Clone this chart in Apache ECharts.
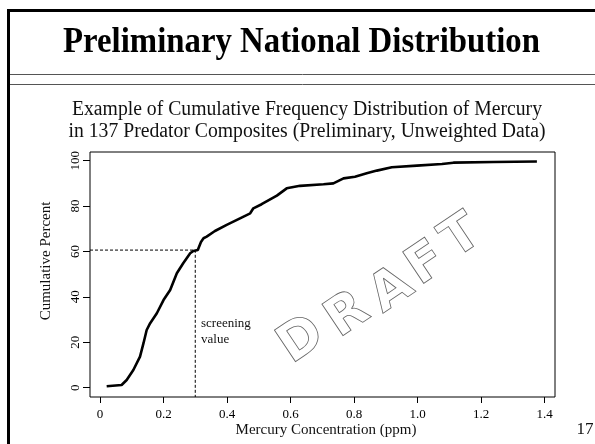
<!DOCTYPE html>
<html>
<head>
<meta charset="utf-8">
<script src="https://cdn.jsdelivr.net/npm/echarts@6/dist/echarts.min.js"></script>
<style>
  html, body { margin: 0; padding: 0; background: #fff; }
  #chart { width: 595px; height: 444px; }
</style>
</head>
<body>
<div id="chart"></div>
<script>
// 汞浓度 (ppm) 与累计百分比
const hgConc = [0.021, 0.068, 0.084, 0.105, 0.126, 0.137, 0.147, 0.158, 0.179, 0.200,
  0.221, 0.242, 0.262, 0.284, 0.294, 0.308, 0.318, 0.326, 0.336, 0.362,
  0.399, 0.441, 0.473, 0.483, 0.509, 0.557, 0.588, 0.630, 0.704, 0.735,
  0.767, 0.803, 0.840, 0.872, 0.919, 0.998, 1.077, 1.113, 1.239, 1.376]
const cumPct = [0.6, 1.2, 3.4, 7.8, 13.7, 19.6, 25.4, 28.4, 32.8, 38.6,
  43.0, 50.4, 54.8, 59.2, 60.2, 60.6, 64.2, 65.8, 66.5, 69.0,
  71.7, 74.6, 76.8, 79.0, 80.8, 84.6, 87.8, 88.9, 89.6, 90.0,
  92.2, 92.9, 94.4, 95.6, 97.1, 97.8, 98.5, 99.1, 99.4, 99.6]
const xTicks = [0, 0.2, 0.4, 0.6, 0.8, 1.0, 1.2, 1.4]
const yTicks = [0, 20, 40, 60, 80, 100]
// screening value
const screenValue = 0.3
const screenPct = 60.6

const xMin = -0.0315
const xMax = 1.433
const yMin = -4.1
const yMax = 103.8

const serif = '"Liberation Serif", "DejaVu Serif", serif'

// 量文字宽度，用来横向压缩标题
function textWidth(text, font) {
  const ctx = document.createElement('canvas').getContext('2d')
  ctx.font = font
  return ctx.measureText(text).width
}

const titleText = 'Preliminary National Distribution'
const titleFont = 'bold 35px ' + serif
const titleScale = 477 / textWidth(titleText, titleFont)

const sub1 = 'Example of Cumulative Frequency Distribution of Mercury'
const sub2 = 'in 137 Predator Composites (Preliminary, Unweighted Data)'
const subFont = '20px ' + serif
const subScale = 470 / textWidth(sub1, subFont)

const myChart = echarts.init(document.getElementById('chart'))

// DRAFT 水印，一个字母一个字母放
const draftLetters = ['D', 'R', 'A', 'F', 'T']
const draftPos = [[302, 341], [348, 316], [392, 291], [427, 265], [462, 238]]
const draftEls = draftLetters.map(function(ch, i) {
  return {
    type: 'text',
    x: draftPos[i][0],
    y: draftPos[i][1],
    rotation: 0.59,
    silent: true,
    style: {
      text: ch,
      font: 'bold 52px "DejaVu Sans", "Liberation Sans", sans-serif',
      fill: 'rgba(0,0,0,0)',
      stroke: '#666',
      lineWidth: 0.8,
      textAlign: 'center',
      textVerticalAlign: 'middle'
    }
  }
})

const option = {
  backgroundColor: '#fff',
  animation: false,
  grid: {
    left: 90,
    right: 40,
    top: 152,
    bottom: 47,
    show: true,
    borderColor: '#000',
    borderWidth: 1
  },
  xAxis: {
    type: 'value',
    min: xMin,
    max: xMax,
    splitLine: { show: false },
    axisLine: { show: false, onZero: false },
    axisTick: {
      show: true,
      customValues: xTicks,
      length: 6,
      lineStyle: { color: '#000' }
    },
    axisLabel: {
      customValues: xTicks,
      margin: 11,
      color: '#000',
      fontSize: 13,
      fontFamily: serif,
      formatter: function(v) {
        return v === 0 ? '0' : v.toFixed(1)
      }
    }
  },
  yAxis: {
    type: 'value',
    min: yMin,
    max: yMax,
    splitLine: { show: false },
    axisLine: { show: false, onZero: false },
    axisTick: {
      show: true,
      customValues: yTicks,
      length: 7,
      lineStyle: { color: '#000' }
    },
    axisLabel: {
      customValues: yTicks,
      rotate: 90,
      margin: 8,
      color: '#000',
      fontSize: 13,
      fontFamily: serif
    }
  },
  series: [
    {
      name: 'cdf',
      type: 'line',
      data: hgConc.map(function(x, i) { return [x, cumPct[i]] }),
      showSymbol: false,
      lineStyle: { color: '#000', width: 2.6 },
      z: 3
    },
    {
      // 筛选值虚线
      name: 'screening',
      type: 'line',
      data: [[xMin, screenPct], [screenValue, screenPct], [screenValue, yMin]],
      showSymbol: false,
      lineStyle: { color: '#000', width: 1, type: [3, 2] },
      z: 2
    }
  ],
  graphic: [
    // 幻灯片边框
    {
      type: 'polyline',
      shape: { points: [[8.5, 444], [8.5, 10.5], [595, 10.5]] },
      style: { stroke: '#000', lineWidth: 3, fill: null }
    },
    {
      type: 'line',
      shape: { x1: 10, y1: 74.5, x2: 595, y2: 74.5 },
      style: { stroke: '#555', lineWidth: 1 }
    },
    {
      type: 'line',
      shape: { x1: 10, y1: 84.5, x2: 595, y2: 84.5 },
      style: { stroke: '#555', lineWidth: 1 }
    },
    {
      type: 'text',
      x: 301.5,
      y: 43,
      scaleX: titleScale,
      style: {
        text: titleText,
        font: titleFont,
        fill: '#000',
        textAlign: 'center',
        textVerticalAlign: 'middle'
      }
    },
    {
      type: 'text',
      x: 307,
      y: 110,
      scaleX: subScale,
      style: { text: sub1, font: subFont, fill: '#111', textAlign: 'center', textVerticalAlign: 'middle' }
    },
    {
      type: 'text',
      x: 307,
      y: 131.5,
      scaleX: subScale,
      style: { text: sub2, font: subFont, fill: '#111', textAlign: 'center', textVerticalAlign: 'middle' }
    },
    {
      type: 'text',
      x: 46.5,
      y: 261,
      rotation: Math.PI / 2,
      style: { text: 'Cumulative Percent', font: '15px ' + serif, fill: '#111', textAlign: 'center', textVerticalAlign: 'middle' }
    },
    {
      type: 'text',
      x: 326,
      y: 430,
      style: { text: 'Mercury Concentration (ppm)', font: '15px ' + serif, fill: '#111', textAlign: 'center', textVerticalAlign: 'middle' }
    },
    {
      type: 'text',
      x: 585,
      y: 430,
      style: { text: '17', font: '17px ' + serif, fill: '#111', textAlign: 'center', textVerticalAlign: 'middle' }
    },
    {
      type: 'text',
      x: 201,
      y: 324,
      style: { text: 'screening', font: '13px ' + serif, fill: '#111', textAlign: 'left', textVerticalAlign: 'middle' }
    },
    {
      type: 'text',
      x: 201,
      y: 340,
      style: { text: 'value', font: '13px ' + serif, fill: '#111', textAlign: 'left', textVerticalAlign: 'middle' }
    }
  ].concat(draftEls)
}

myChart.setOption(option)
</script>
</body>
</html>
